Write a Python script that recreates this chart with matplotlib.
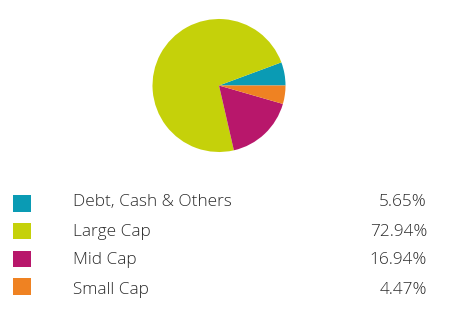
import matplotlib
matplotlib.use('Agg')
import matplotlib.pyplot as plt
from matplotlib.patches import Rectangle

labels = ['Debt, Cash & Others', 'Large Cap', 'Mid Cap', 'Small Cap']
values = [5.65, 72.94, 16.94, 4.47]
value_labels = ['5.65%', '72.94%', '16.94%', '4.47%']
colors = ['#0a9bb4', '#c5d10a', '#b8176b', '#ef8222']

W, H = 465, 309
fig = plt.figure(figsize=(W / 100, H / 100), dpi=100)

# pie, centre ~ (219, 85.5) px, radius ~66.5 px
cx, cy, r = 219, 85.5, 66.5
ax = fig.add_axes([(cx - r) / W, 1 - (cy + r) / H, 2 * r / W, 2 * r / H])
ax.pie(values, colors=colors, startangle=0, counterclock=True, radius=1,
       wedgeprops={'linewidth': 0})
ax.set_xlim(-1, 1)
ax.set_ylim(-1, 1)
ax.set_aspect('equal')
ax.axis('off')

# legend table drawn in pixel space
lg = fig.add_axes([0, 0, 1, 1])
lg.set_xlim(0, W)
lg.set_ylim(H, 0)
lg.axis('off')

box_top = [195, 222.7, 250.7, 278.3]
text_y = [201.5, 231.5, 260.5, 289.5]
for i, (lab, val, col) in enumerate(zip(labels, value_labels, colors)):
    lg.add_patch(Rectangle((13.3, box_top[i]), 17.7, 16.7, color=col, lw=0))
    lg.text(72.5, text_y[i], lab, fontsize=12.4, family='Open Sans',
            fontweight='light', color='#2b2b2b', va='center', ha='left')
    lg.text(427, text_y[i], val, fontsize=12.4, family='Open Sans',
            fontweight='light', color='#2b2b2b', va='center', ha='right')

fig.savefig('out.png', dpi=100)
